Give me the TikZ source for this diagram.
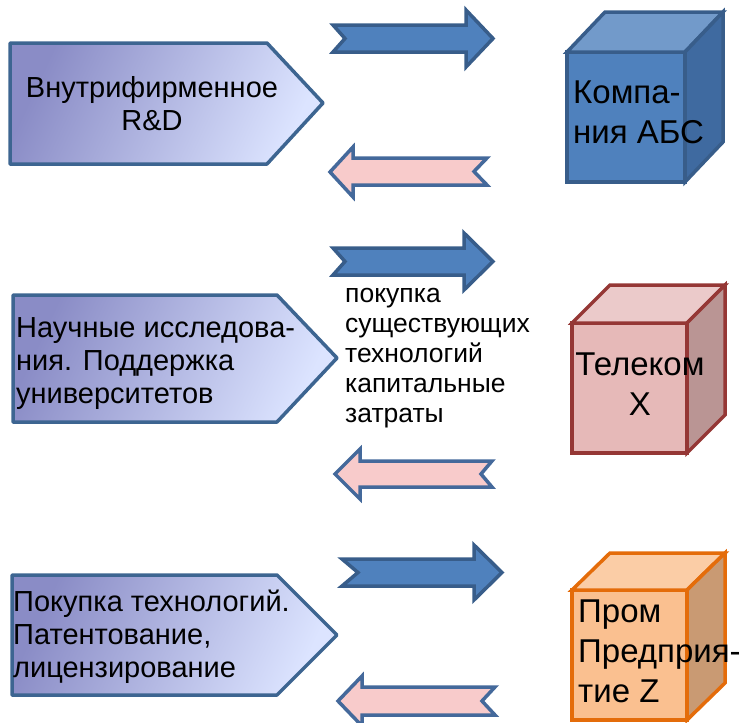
\documentclass[tikz,border=0pt]{standalone}
\usepackage{fontspec}
\setmainfont{Liberation Sans}
\definecolor{arrowfill}{HTML}{4F81BD}
\definecolor{arrowline}{HTML}{385D8A}
\definecolor{pinkfill}{HTML}{F8CBCB}
\definecolor{pinkline}{HTML}{44699B}
\definecolor{pentline}{HTML}{3D6591}
\definecolor{pentL}{HTML}{8A8CC6}
\definecolor{pentM}{HTML}{C4CDF4}
\definecolor{pentR}{HTML}{DCE4FF}
\definecolor{blueF}{HTML}{4F81BD}
\definecolor{blueT}{HTML}{729ACA}
\definecolor{blueS}{HTML}{3F6AA0}
\definecolor{blueL}{HTML}{385D8A}
\definecolor{redF}{HTML}{E6B9B8}
\definecolor{redT}{HTML}{EBCACA}
\definecolor{redS}{HTML}{BA9594}
\definecolor{redL}{HTML}{953735}
\definecolor{orF}{HTML}{FAC090}
\definecolor{orT}{HTML}{FBCDA6}
\definecolor{orS}{HTML}{C99A73}
\definecolor{orL}{HTML}{E46C0A}
\tikzset{
  rarrow/.style={fill=arrowfill, draw=arrowline, line width=3.5pt, line join=miter},
  larrow/.style={fill=pinkfill, draw=pinkline, line width=3.5pt, line join=miter},
  pentshade/.style={left color=pentL, middle color=pentM, right color=pentR, shading angle=65},
  pentborder/.style={draw=pentline, line width=3.5pt, line join=round},
  penttext/.style={inner sep=0pt, font=\fontsize{29}{33}\selectfont},
  midtext/.style={inner sep=0pt, font=\fontsize{26.5}{30}\selectfont, align=left, anchor=base west},
  cubetext/.style={inner sep=0pt, font=\fontsize{33}{40}\selectfont},
}
\begin{document}
\begin{tikzpicture}[x=1pt, y=-1pt]
\useasboundingbox (0,0) rectangle (748,723);
% pentagons
\shade[pentshade] (10,43) -- (267,43) -- (323,103) -- (267,164) -- (10,164) -- cycle;
\draw[pentborder] (10,43) -- (267,43) -- (323,103) -- (267,164) -- (10,164) -- cycle;
\shade[pentshade] (13,295) -- (277,295) -- (337,358) -- (277,422) -- (13,422) -- cycle;
\draw[pentborder] (13,295) -- (277,295) -- (337,358) -- (277,422) -- (13,422) -- cycle;
\shade[pentshade] (12,575) -- (277,575) -- (337,635) -- (277,695) -- (12,695) -- cycle;
\draw[pentborder] (12,575) -- (277,575) -- (337,635) -- (277,695) -- (12,695) -- cycle;
\node[penttext, align=center, anchor=base] (p1) at (152,130) {Внутрифирменное\\R\&D};
\node[penttext, align=left, anchor=base west] (p2) at (16,403) {Научные исследова-\\ния. Поддержка\\университетов};
\node[penttext, align=left, anchor=base west] (p3) at (13,677) {Покупка технологий.\\Патентование,\\лицензирование};
% arrows row 1
\path[rarrow] (333,25) -- (466,25) -- (466,10) -- (493,38.5) -- (466,67) -- (466,52) -- (333,52) -- (345,38.5) -- cycle;
\path[larrow] (330,172) -- (353,147) -- (353,158) -- (487,158) -- (474,171.5) -- (487,185) -- (353,185) -- (353,197) -- cycle;
% arrows row 2
\path[rarrow] (333,248) -- (464,248) -- (464,233) -- (493,261.5) -- (464,290) -- (464,275) -- (333,275) -- (345,261.5) -- cycle;
\path[larrow] (335,474) -- (360,449) -- (360,461) -- (492,461) -- (481,474) -- (492,487) -- (360,487) -- (360,499) -- cycle;
% arrows row 3
\path[rarrow] (342,559) -- (474,559) -- (474,545) -- (502,572.5) -- (474,600) -- (474,586) -- (342,586) -- (358,572.5) -- cycle;
\path[larrow] (338,701) -- (362,676) -- (362,687) -- (495,687) -- (482,701) -- (495,715) -- (362,715) -- (362,726) -- cycle;
\node[midtext] (mid) at (345,422) {покупка\\существующих\\технологий\\капитальные\\затраты};
% cubes
\begin{scope}[line width=3.5pt, line join=miter]
\filldraw[fill=blueF, draw=blueL] (567,52) rectangle (685,182);
\filldraw[fill=blueT, draw=blueL] (567,52) -- (605,12) -- (723,12) -- (685,52) -- cycle;
\filldraw[fill=blueS, draw=blueL] (685,52) -- (723,12) -- (723,142) -- (685,182) -- cycle;
\filldraw[fill=redF, draw=redL] (572,323) rectangle (687,453);
\filldraw[fill=redT, draw=redL] (572,323) -- (610,285) -- (725,285) -- (687,323) -- cycle;
\filldraw[fill=redS, draw=redL] (687,323) -- (725,285) -- (725,415) -- (687,453) -- cycle;
\filldraw[fill=orF, draw=orL] (572,590) rectangle (687,720);
\filldraw[fill=orT, draw=orL] (572,590) -- (610,553) -- (725,553) -- (687,590) -- cycle;
\filldraw[fill=orS, draw=orL] (687,590) -- (725,553) -- (725,683) -- (687,720) -- cycle;
\end{scope}
\node[cubetext, align=left, anchor=base west] (c1) at (573,143) {Компа-\\ния АБС};
\node[cubetext, align=center, anchor=base] (c2) at (640,415) {Телеком\\X};
\node[cubetext, align=left, anchor=base west] (c3) at (578,702) {Пром\\Предприя-\\тие Z};
\end{tikzpicture}
\end{document}
